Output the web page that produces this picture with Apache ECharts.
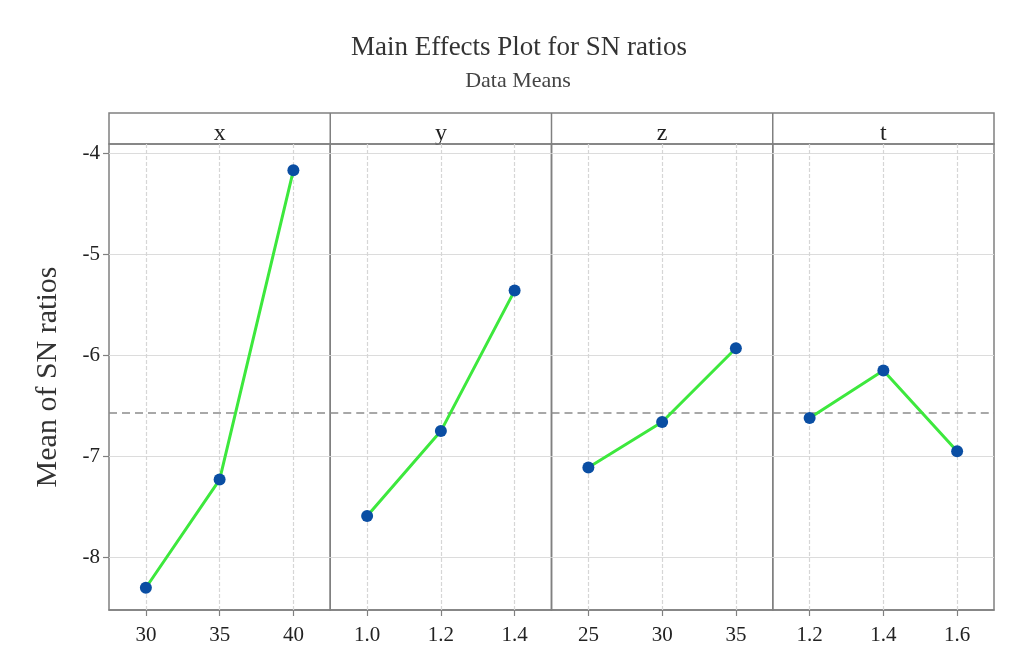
<!DOCTYPE html>
<html><head><meta charset="utf-8">
<script src="https://cdn.jsdelivr.net/npm/echarts@6/dist/echarts.min.js"></script>
<style>html,body{margin:0;padding:0;background:#fff}#c{width:1017px;height:659px}</style>
</head><body><div id="c"></div>
<script>
// ---- data ----
const factorNames = ['x', 'y', 'z', 't'];
const xLevels = ['30', '35', '40'];
const xMeans = [-8.30, -7.23, -4.17];
const yLevels = ['1.0', '1.2', '1.4'];
const yMeans = [-7.59, -6.75, -5.36];
const zLevels = ['25', '30', '35'];
const zMeans = [-7.11, -6.66, -5.93];
const tLevels = ['1.2', '1.4', '1.6'];
const tMeans = [-6.62, -6.15, -6.95];
const yTicks = [-8, -7, -6, -5, -4];
const titleText = 'Main Effects Plot for SN ratios';
const subtitleText = 'Data Means';
const yAxisTitle = 'Mean of SN ratios';

const levelsList = [xLevels, yLevels, zLevels, tLevels];
const meansList = [xMeans, yMeans, zMeans, tMeans];
const allMeans = [].concat(xMeans, yMeans, zMeans, tMeans);
const grandMean = allMeans.reduce((a, b) => a + b, 0) / allMeans.length;

// ---- layout ----
const L = 109, R = 994, TOP = 144, BOT = 610, HDR = 113;
const W = (R - L) / 4;
const FONT = "'Liberation Serif','Times New Roman',serif";
const frameColor = '#808080';

const chart = echarts.init(document.getElementById('c'));

const grids = [], xAxes = [], yAxes = [], series = [], graphics = [];
for (let i = 0; i < 4; i++) {
  grids.push({
    left: L + i * W, width: W, top: TOP, height: BOT - TOP,
    show: true, borderColor: frameColor, borderWidth: 1.5, backgroundColor: 'transparent'
  });
  xAxes.push({
    type: 'category', gridIndex: i, data: levelsList[i], boundaryGap: true,
    axisLine: { show: true, lineStyle: { color: frameColor, width: 1.5 } },
    axisTick: { show: true, alignWithLabel: true, length: 6, lineStyle: { color: frameColor, width: 1.2 } },
    axisLabel: { fontSize: 21, color: '#222', fontFamily: FONT, margin: 15 },
    splitLine: { show: false }
  });
  yAxes.push({
    type: 'value', gridIndex: i, min: -8.52, max: -3.91,
    axisLine: { show: false },
    axisTick: { show: i === 0, customValues: yTicks, length: 6, lineStyle: { color: frameColor, width: 1.2 } },
    axisLabel: { show: i === 0, customValues: yTicks, fontSize: 21, color: '#222', fontFamily: FONT, margin: 9 },
    splitLine: { show: true, lineStyle: { color: '#dcdcdc', width: 1.2 } },
    name: i === 0 ? yAxisTitle : '',
    nameLocation: 'middle', nameGap: 46,
    nameTextStyle: { fontSize: 30, color: '#333', fontFamily: FONT }
  });
  series.push({
    type: 'line', xAxisIndex: i, yAxisIndex: i, data: meansList[i],
    symbol: 'circle', symbolSize: 12, z: 3,
    itemStyle: { color: '#0a4ea3' },
    lineStyle: { color: '#3de83d', width: 3 },
    animation: false,
    markLine: {
      silent: true, symbol: ['none', 'none'], z: 1, animation: false,
      label: { show: false },
      data: levelsList[i].map(l => ({ xAxis: l, lineStyle: { color: '#d6d6d6', width: 1.2, type: [4, 2] } }))
        .concat([{ yAxis: grandMean, lineStyle: { color: '#8c8c8c', width: 1.5, type: [8, 5] } }])
    }
  });
  graphics.push({
    type: 'text', x: L + i * W + W / 2, y: 134,
    style: { text: factorNames[i], font: '24px ' + FONT, fill: '#222', textAlign: 'center', textVerticalAlign: 'middle' }
  });
  if (i > 0) {
    graphics.push({
      type: 'line', shape: { x1: L + i * W, y1: HDR, x2: L + i * W, y2: TOP },
      style: { stroke: frameColor, lineWidth: 1.5 }
    });
  }
}
graphics.push({
  type: 'rect', shape: { x: L, y: HDR, width: R - L, height: TOP - HDR },
  style: { stroke: frameColor, fill: 'none', lineWidth: 1.5 }
});
graphics.push({
  type: 'text', x: 519, y: 48,
  style: { text: titleText, font: '27px ' + FONT, fill: '#333', textAlign: 'center', textVerticalAlign: 'middle' }
});
graphics.push({
  type: 'text', x: 518, y: 81,
  style: { text: subtitleText, font: '22px ' + FONT, fill: '#444', textAlign: 'center', textVerticalAlign: 'middle' }
});

chart.setOption({
  animation: false,
  grid: grids, xAxis: xAxes, yAxis: yAxes, series: series, graphic: graphics
});
</script></body></html>
